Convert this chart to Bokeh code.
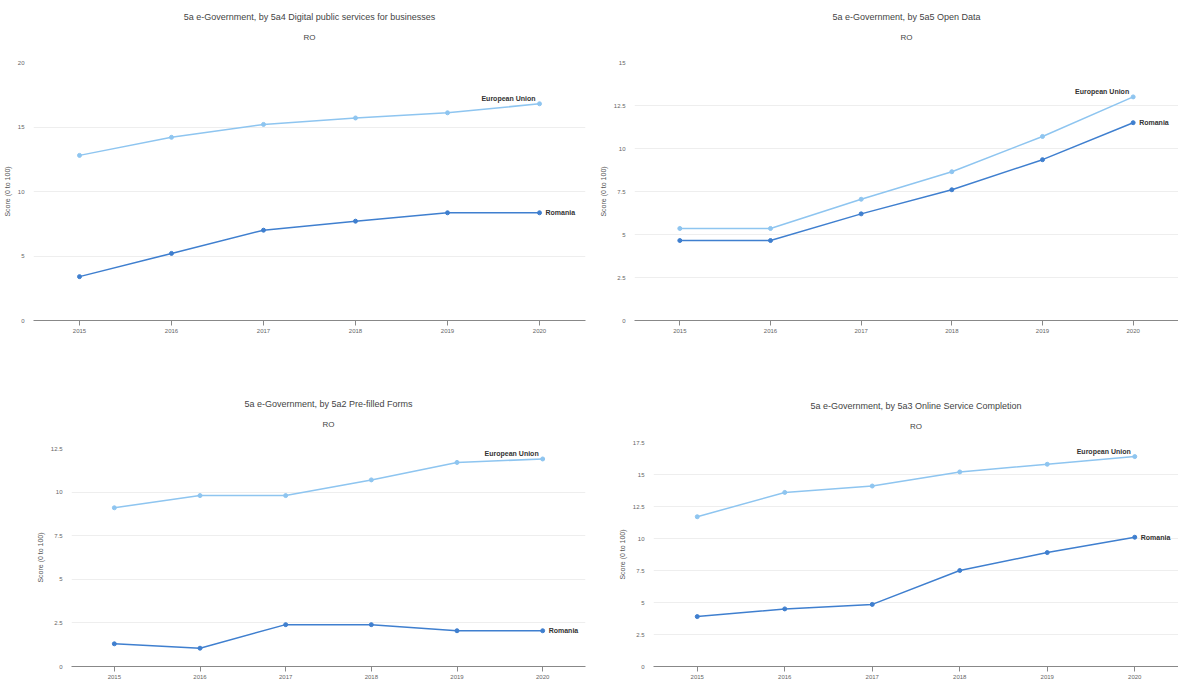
from bokeh.plotting import figure
from bokeh.layouts import row, column
from bokeh.models import Range1d, FixedTicker, Title
from bokeh.core.properties import value
from bokeh.embed import file_html
from bokeh.resources import INLINE

years = ["2015", "2016", "2017", "2018", "2019", "2020"]

# Panel 1: 5a4 Digital public services for businesses
p1_title = "5a e-Government, by 5a4 Digital public services for businesses"
p1_eu = [12.8, 14.2, 15.2, 15.7, 16.1, 16.8]
p1_ro = [3.4, 5.2, 7.0, 7.7, 8.35, 8.35]
p1_ticks = [0, 5, 10, 15, 20]

# Panel 2: 5a5 Open Data
p2_title = "5a e-Government, by 5a5 Open Data"
p2_eu = [5.35, 5.35, 7.05, 8.65, 10.7, 13.0]
p2_ro = [4.65, 4.65, 6.2, 7.6, 9.35, 11.5]
p2_ticks = [0, 2.5, 5, 7.5, 10, 12.5, 15]

# Panel 3: 5a2 Pre-filled Forms
p3_title = "5a e-Government, by 5a2 Pre-filled Forms"
p3_eu = [9.1, 9.8, 9.8, 10.7, 11.7, 11.9]
p3_ro = [1.3, 1.05, 2.4, 2.4, 2.05, 2.05]
p3_ticks = [0, 2.5, 5, 7.5, 10, 12.5]

# Panel 4: 5a3 Online Service Completion
p4_title = "5a e-Government, by 5a3 Online Service Completion"
p4_eu = [11.7, 13.6, 14.1, 15.2, 15.8, 16.4]
p4_ro = [3.9, 4.5, 4.85, 7.5, 8.9, 10.1]
p4_ticks = [0, 2.5, 5, 7.5, 10, 12.5, 15, 17.5]

subtitle = "RO"
y_label = "Score (0 to 100)"
eu_name = "European Union"
ro_name = "Romania"

EU_COLOR = "#8ec5f0"
RO_COLOR = "#3f7fcf"
FONT = "Liberation Sans"


def spacer(standoff):
    return Title(text=" ", text_font_size="1px", standoff=standoff)


def make_panel(title, eu, ro, ticks, width, height, left, right, bottom,
               gap_below, gap_above):
    p = figure(x_range=years, y_range=Range1d(ticks[0], ticks[-1]),
               width=width, height=height, output_backend="svg",
               toolbar_location=None, min_border_left=left,
               min_border_top=0, min_border_right=right,
               min_border_bottom=bottom)
    p.outline_line_color = None
    p.add_layout(spacer(gap_below), "above")
    p.add_layout(Title(text=subtitle, align="center", text_font=FONT,
                       text_font_size="8px", text_font_style="normal",
                       text_color="#444444", standoff=11), "above")
    p.add_layout(Title(text=title, align="center", text_font=FONT,
                       text_font_size="9px", text_font_style="normal",
                       text_color="#444444", standoff=7), "above")
    p.add_layout(spacer(gap_above), "above")
    p.line(years, eu, color=EU_COLOR, line_width=1.5)
    p.scatter(years, eu, color=EU_COLOR, size=4)
    p.line(years, ro, color=RO_COLOR, line_width=1.5)
    p.scatter(years, ro, color=RO_COLOR, size=4)
    p.text(x=[years[-1]], y=[eu[-1]], text=[eu_name], x_offset=-4, y_offset=-2,
           text_align="right", text_baseline="bottom", text_font=value(FONT),
           text_font_size="7px", text_font_style="bold", text_color="#333333")
    p.text(x=[years[-1]], y=[ro[-1]], text=[ro_name], x_offset=6, y_offset=0,
           text_align="left", text_baseline="middle", text_font=value(FONT),
           text_font_size="7px", text_font_style="bold", text_color="#333333")
    p.yaxis.ticker = FixedTicker(ticks=ticks)
    p.yaxis.axis_line_color = None
    p.yaxis.major_tick_line_color = None
    p.yaxis.minor_tick_line_color = None
    p.yaxis.axis_label = y_label
    p.yaxis.axis_label_standoff = 4
    p.yaxis.major_label_standoff = 3
    p.yaxis.axis_label_text_font = FONT
    p.yaxis.axis_label_text_font_size = "7px"
    p.yaxis.axis_label_text_font_style = "normal"
    p.yaxis.axis_label_text_color = "#555555"
    p.yaxis.major_label_text_font = FONT
    p.yaxis.major_label_text_font_size = "6px"
    p.yaxis.major_label_text_color = "#666666"
    p.xaxis.axis_line_color = "#888888"
    p.xaxis.major_tick_line_color = "#888888"
    p.xaxis.major_tick_in = 0
    p.xaxis.major_tick_out = 5
    p.xaxis.major_label_standoff = 3
    p.xaxis.major_label_text_font = FONT
    p.xaxis.major_label_text_font_size = "6px"
    p.xaxis.major_label_text_color = "#666666"
    p.xgrid.grid_line_color = None
    p.ygrid.grid_line_color = "#eeeeee"
    return p


f1 = make_panel(p1_title, p1_eu, p1_ro, p1_ticks, 589, 340, 27, 4, 20, 12, 3)
f2 = make_panel(p2_title, p2_eu, p2_ro, p2_ticks, 589, 340, 45, 0, 20, 12, 3)
f3 = make_panel(p3_title, p3_eu, p3_ro, p3_ticks, 589, 341, 71, 4, 14, 11, 50)
f4 = make_panel(p4_title, p4_eu, p4_ro, p4_ticks, 589, 341, 64, 0, 10, 3, 52)

layout = column(row(column(f1), column(f2)), row(column(f3), column(f4)))

open("out.html", "w").write(file_html(layout, INLINE))
